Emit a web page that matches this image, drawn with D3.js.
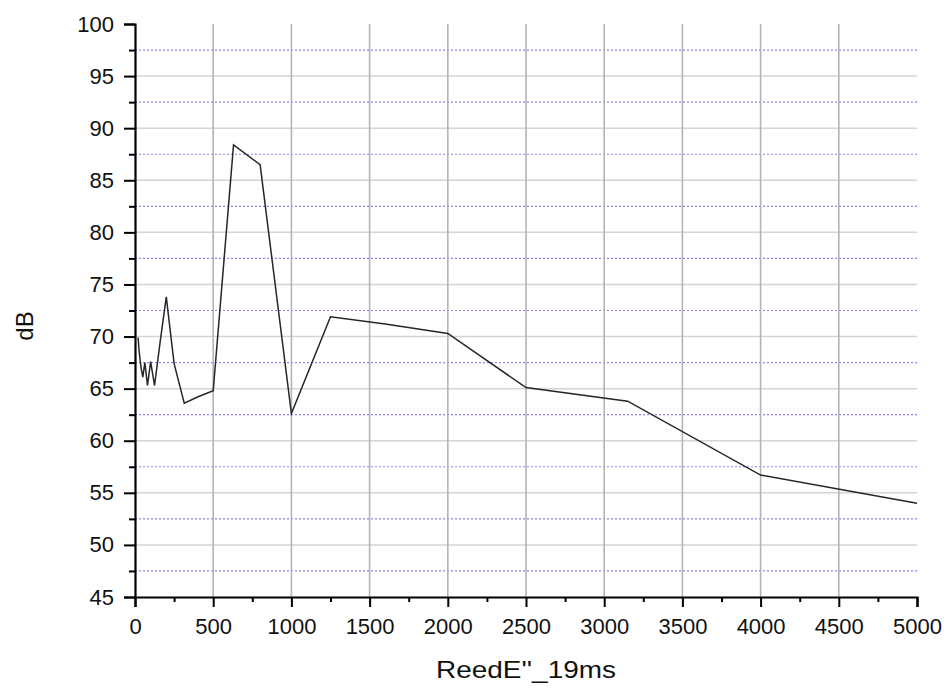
<!DOCTYPE html>
<html>
<head>
<meta charset="utf-8">
<script src="https://cdn.jsdelivr.net/npm/d3@7"></script>
<style>
  html, body { margin: 0; padding: 0; background: #fff; }
  svg { display: block; font-family: "Liberation Sans", Arial, sans-serif; }
</style>
</head>
<body>
<svg id="chart" width="947" height="689"></svg>
<script>
// 1/3-octave band centre frequencies (Hz)
const freqs = [20, 25, 31.5, 40, 50, 63, 80, 100, 125, 160, 200, 250, 315, 400, 500,
               630, 800, 1000, 1250, 1600, 2000, 2500, 3150, 4000, 5000];
// Level per band (dB)
const levels = [69.9, 68.8, 67.9, 66.9, 66.1, 67.5, 65.3, 67.6, 65.3, 69.4, 73.8, 67.4, 63.6, 64.2, 64.8,
                88.4, 86.5, 62.6, 71.9, 71.2, 70.3, 65.1, 63.8, 56.7, 54.0];

const xTicks = [0, 500, 1000, 1500, 2000, 2500, 3000, 3500, 4000, 4500, 5000];
const yTicks = [45, 50, 55, 60, 65, 70, 75, 80, 85, 90, 95, 100];
const xTitle = "ReedE''_19ms";
const yTitle = "dB";

const svg = d3.select("#chart");
const plotLeft = 135, plotRight = 917, plotTop = 24, plotBottom = 597;

const x = d3.scaleLinear().domain([0, 5000]).range([plotLeft, plotRight]);
const y = d3.scaleLinear().domain([45, 100]).range([plotBottom, plotTop]);

const xMinor = d3.range(250, 5000, 500);
const yMinor = d3.range(47.5, 100, 5);

// minor horizontal grid: blue dotted
svg.append("g").selectAll("line").data(yMinor).join("line")
  .attr("x1", plotLeft).attr("x2", plotRight)
  .attr("y1", d => y(d)).attr("y2", d => y(d))
  .attr("stroke", "#8585ee").attr("stroke-width", 1.2)
  .attr("stroke-dasharray", "2,2");

// major horizontal grid
svg.append("g").selectAll("line").data(yTicks.filter(d => d > 45 && d < 100)).join("line")
  .attr("x1", plotLeft).attr("x2", plotRight)
  .attr("y1", d => y(d)).attr("y2", d => y(d))
  .attr("stroke", "#d4d4d4").attr("stroke-width", 1.5);

// vertical grid
svg.append("g").selectAll("line").data(xTicks.filter(d => d > 0 && d < 5000)).join("line")
  .attr("x1", d => x(d)).attr("x2", d => x(d))
  .attr("y1", plotTop).attr("y2", plotBottom)
  .attr("stroke", "#b4b4b4").attr("stroke-width", 1.6);

// data line
const line = d3.line().x((d, i) => x(freqs[i])).y(d => y(d));
svg.append("path").datum(levels)
  .attr("d", line)
  .attr("fill", "none")
  .attr("stroke", "#262626")
  .attr("stroke-width", 1.5)
  .attr("stroke-linejoin", "miter");

// x axis
svg.append("g").attr("transform", `translate(0,${plotBottom})`)
  .call(d3.axisBottom(x).tickValues(xTicks).tickSize(10).tickPadding(11).tickFormat(d3.format("d")));
svg.append("g").attr("transform", `translate(0,${plotBottom})`)
  .call(d3.axisBottom(x).tickValues(xMinor).tickSize(5).tickFormat(""))
  .call(g => g.select(".domain").remove());

// y axis
svg.append("g").attr("transform", `translate(${plotLeft},0)`)
  .call(d3.axisLeft(y).tickValues(yTicks).tickSize(11).tickPadding(10).tickFormat(d3.format("d")));
svg.append("g").attr("transform", `translate(${plotLeft},0)`)
  .call(d3.axisLeft(y).tickValues(yMinor).tickSize(6).tickFormat(""))
  .call(g => g.select(".domain").remove());

svg.selectAll(".domain").attr("stroke", "#000").attr("stroke-width", 2.2);
svg.selectAll(".tick line").attr("stroke", "#000").attr("stroke-width", 2);
svg.selectAll(".tick text")
  .attr("font-size", 22)
  .attr("font-family", "'Liberation Sans', Arial, sans-serif")
  .attr("fill", "#111");

// titles
svg.append("text")
  .attr("x", (plotLeft + plotRight) / 2).attr("y", 678)
  .attr("text-anchor", "middle")
  .attr("font-size", 24).attr("fill", "#111")
  .attr("textLength", 180).attr("lengthAdjust", "spacingAndGlyphs")
  .text(xTitle);

svg.append("text")
  .attr("transform", `translate(33,326) rotate(-90)`)
  .attr("text-anchor", "middle")
  .attr("font-size", 24).attr("fill", "#111")
  .text(yTitle);
</script>
</body>
</html>
